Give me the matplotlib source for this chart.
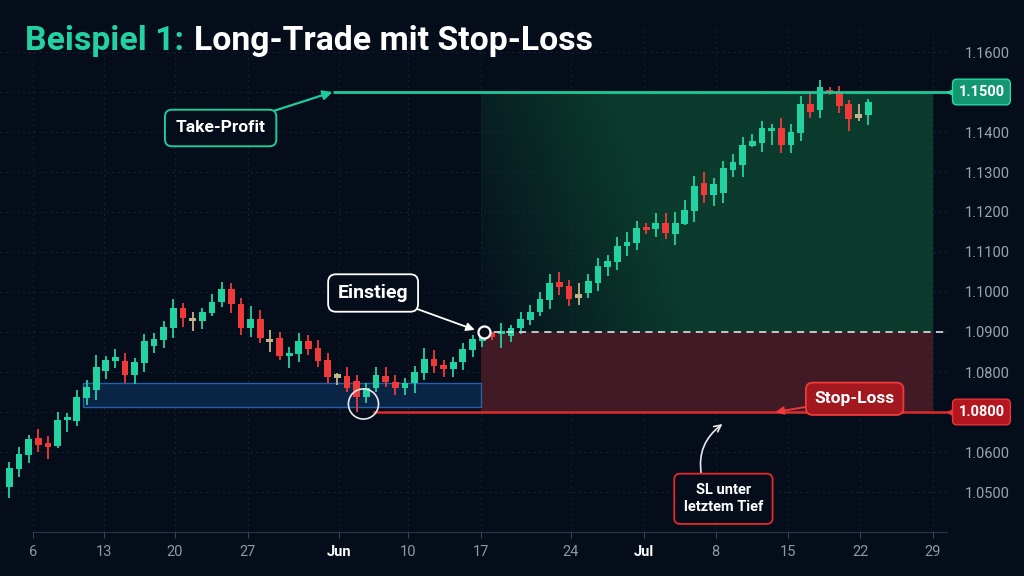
import numpy as np
import matplotlib
matplotlib.use('Agg')
import matplotlib.pyplot as plt
from matplotlib.patches import Rectangle
from matplotlib.transforms import blended_transform_factory

plt.rcParams['font.family'] = ['Roboto', 'DejaVu Sans']

# daily candles (EUR/USD style)
opens = [1.0513, 1.0558, 1.0593, 1.0636, 1.0623, 1.0615, 1.0680, 1.0678, 1.0734, 1.0755,
         1.0803, 1.0827, 1.0828, 1.0792, 1.0822, 1.0866, 1.0880, 1.0911, 1.0959, 1.0932,
         1.0928, 1.0948, 1.0975, 1.1008, 1.0971, 1.0909, 1.0932, 1.0879, 1.0884, 1.0840,
         1.0845, 1.0878, 1.0861, 1.0830, 1.0790, 1.0791, 1.0778, 1.0737, 1.0759, 1.0791,
         1.0775, 1.0759, 1.0772, 1.0798, 1.0833, 1.0817, 1.0807, 1.0826, 1.0855, 1.0878,
         1.0895, 1.0895, 1.0891, 1.0909, 1.0930, 1.0949, 1.0980, 1.1024, 1.1015, 1.0990,
         1.0997, 1.1023, 1.1063, 1.1076, 1.1115, 1.1123, 1.1162, 1.1158, 1.1172, 1.1145,
         1.1170, 1.1203, 1.1273, 1.1243, 1.1247, 1.1305, 1.1318, 1.1365, 1.1373, 1.1403,
         1.1411, 1.1368, 1.1398, 1.1470, 1.1455, 1.1503, 1.1498, 1.1469, 1.1440, 1.1443]
highs = [1.0576, 1.0613, 1.0643, 1.0658, 1.0640, 1.0701, 1.0697, 1.0755, 1.0780, 1.0843,
         1.0840, 1.0858, 1.0847, 1.0836, 1.0895, 1.0897, 1.0928, 1.0983, 1.0972, 1.0951,
         1.0959, 1.0995, 1.1024, 1.1022, 1.0984, 1.0966, 1.0955, 1.0905, 1.0901, 1.0863,
         1.0897, 1.0893, 1.0880, 1.0847, 1.0797, 1.0813, 1.0793, 1.0772, 1.0813, 1.0813,
         1.0793, 1.0784, 1.0815, 1.0859, 1.0855, 1.0830, 1.0837, 1.0872, 1.0893, 1.0897,
         1.0901, 1.0923, 1.0918, 1.0949, 1.0968, 1.1001, 1.1044, 1.1051, 1.1030, 1.1022,
         1.1044, 1.1086, 1.1093, 1.1137, 1.1151, 1.1178, 1.1173, 1.1198, 1.1197, 1.1201,
         1.1230, 1.1290, 1.1301, 1.1286, 1.1328, 1.1344, 1.1388, 1.1395, 1.1428, 1.1420,
         1.1434, 1.1420, 1.1490, 1.1497, 1.1530, 1.1512, 1.1515, 1.1480, 1.1469, 1.1482]
lows = [1.0484, 1.0538, 1.0572, 1.0601, 1.0582, 1.0609, 1.0651, 1.0666, 1.0718, 1.0730,
        1.0782, 1.0809, 1.0772, 1.0769, 1.0801, 1.0847, 1.0861, 1.0886, 1.0913, 1.0903,
        1.0908, 1.0940, 1.0963, 1.0947, 1.0893, 1.0888, 1.0872, 1.0851, 1.0830, 1.0809,
        1.0826, 1.0843, 1.0813, 1.0772, 1.0768, 1.0751, 1.0701, 1.0722, 1.0751, 1.0763,
        1.0743, 1.0743, 1.0747, 1.0780, 1.0797, 1.0787, 1.0787, 1.0805, 1.0838, 1.0862,
        1.0880, 1.0859, 1.0874, 1.0895, 1.0918, 1.0940, 1.0957, 1.0993, 1.0965, 1.0968,
        1.0984, 1.1003, 1.1040, 1.1055, 1.1090, 1.1105, 1.1144, 1.1138, 1.1132, 1.1118,
        1.1168, 1.1176, 1.1222, 1.1215, 1.1222, 1.1288, 1.1288, 1.1362, 1.1351, 1.1368,
        1.1348, 1.1347, 1.1378, 1.1434, 1.1434, 1.1493, 1.1447, 1.1403, 1.1428, 1.1418]
closes = [1.0561, 1.0595, 1.0633, 1.0618, 1.0613, 1.0680, 1.0688, 1.0737, 1.0762, 1.0812,
          1.0830, 1.0837, 1.0792, 1.0824, 1.0878, 1.0883, 1.0913, 1.0959, 1.0936, 1.0932,
          1.0949, 1.0976, 1.1008, 1.0969, 1.0909, 1.0933, 1.0886, 1.0879, 1.0840, 1.0848,
          1.0878, 1.0858, 1.0828, 1.0787, 1.0790, 1.0759, 1.0737, 1.0761, 1.0793, 1.0774,
          1.0759, 1.0773, 1.0801, 1.0833, 1.0815, 1.0807, 1.0826, 1.0857, 1.0882, 1.0890,
          1.0890, 1.0901, 1.0909, 1.0932, 1.0951, 1.0983, 1.1023, 1.1012, 1.0982, 1.0990,
          1.1028, 1.1065, 1.1078, 1.1116, 1.1126, 1.1159, 1.1157, 1.1172, 1.1147, 1.1172,
          1.1205, 1.1265, 1.1243, 1.1269, 1.1309, 1.1326, 1.1368, 1.1378, 1.1409, 1.1411,
          1.1368, 1.1401, 1.1470, 1.1451, 1.1513, 1.1498, 1.1465, 1.1432, 1.1440, 1.1475]

# x axis labels (weekly) and where they sit in candle units
date_labels = ['6', '13', '20', '27', 'Jun', '10', '17', '24', 'Jul', '8', '15', '22', '29']
date_pos = [2.46, 9.81, 17.17, 24.7, 34.2, 41.3, 48.9, 58.2, 65.8, 73.2, 80.7, 88.2, 95.7]

# price labels on the right axis, as printed
price_levels = [1.05, 1.06, 1.07, 1.08, 1.09, 1.10, 1.11, 1.12, 1.13, 1.14, 1.15, 1.16]
price_labels = ['1.0500', '1.0600', '', '1.0800', '1.0900', '1.1000', '1.1100',
                '1.1200', '1.1300', '1.1400', '', '1.1600']

# trade setup
entry = 1.09
take_profit = 1.15
stop_loss = 1.07
tp_text = '1.1500'
sl_text = '1.0800'
entry_x = 48.9
trade_end = 95.7
support_x = 7.6
support_lo, support_hi = 1.0713, 1.0773
low_x, low_y = 36.7, 1.0720

BG = '#050c1a'
GREEN = '#22d3a1'
RED = '#f03a3a'
DOJI = '#c4b48a'

fig = plt.figure(figsize=(10.24, 5.76), dpi=100, facecolor=BG)
ax = fig.add_axes([0, 1 - 532 / 576, 947 / 1024, 502 / 576])
ax.set_facecolor(BG)
ax.set_xlim(-0.964, 97.17)
ax.set_ylim(1.04, 1.1655)

# grid
ax.set_xticks(date_pos)
ax.set_yticks(price_levels)
ax.grid(color='#142033', linestyle=(0, (2, 3)), lw=0.8, zorder=0)
ax.set_axisbelow(True)

# zones
nx, ny = 300, 80
tx = np.linspace(0, 1, nx)[None, :]
vb = 1 - np.linspace(0, 1, ny)[:, None]
alpha = np.clip(0.08 + 2.0 * tx + 0.35 * vb, 0, 1)
grad = np.zeros((ny, nx, 4))
grad[..., :3] = matplotlib.colors.to_rgb('#0b3b2c')
grad[..., 3] = alpha
ax.imshow(grad, extent=[entry_x, trade_end, entry, take_profit], origin='upper',
          aspect='auto', zorder=1, interpolation='bilinear')
ax.add_patch(Rectangle((entry_x, stop_loss), trade_end - entry_x, entry - stop_loss,
                       facecolor='#401a25', edgecolor='none', zorder=1))
ax.add_patch(Rectangle((support_x, support_lo), entry_x - support_x, support_hi - support_lo,
                       facecolor='#0a2445', edgecolor='#2660aa', lw=1, zorder=1))

# candles
o = np.array(opens)
c = np.array(closes)
x = np.arange(len(o))
cols = np.where(c > o, GREEN, np.where(c < o, RED, DOJI))
body_lo = np.minimum(o, c)
body_h = np.maximum(np.abs(c - o), 0.0008)
body_lo = np.where(np.abs(c - o) < 0.0008, (o + c) / 2 - 0.0004, body_lo)
ax.vlines(x, lows, highs, colors=cols, lw=1.3, zorder=3)
ax.bar(x, body_h, bottom=body_lo, width=0.7, color=cols, edgecolor='none', zorder=3)

# levels
ax.hlines(take_profit, 33.5, 97.6, color='#20c99a', lw=2, zorder=4, clip_on=False)
ax.hlines(stop_loss, 37.7, 97.6, color='#e02b2b', lw=1.8, zorder=4, clip_on=False)
ax.hlines(entry, entry_x, 97.1, color='#cfd3d8', lw=1.3, linestyle=(0, (4, 3)), zorder=4)
ax.scatter([entry_x + 0.3], [entry], s=75, facecolor=BG, edgecolor='white', lw=1.6, zorder=5)
ax.scatter([low_x], [low_y], s=470, facecolor='none', edgecolor='#e8e8e8', lw=1.2, zorder=5)

# price tags on the right
tr = blended_transform_factory(ax.transAxes, ax.transData)
for val, txt, fc, ec in [(take_profit, tp_text, '#129770', '#2ad8a8'),
                         (stop_loss, sl_text, '#b3161e', '#ec3535')]:
    ax.plot([1.005], [val], marker='<', ms=7, color=ec, transform=tr, clip_on=False, zorder=6)
    ax.text(1.012, val, txt, transform=tr, ha='left', va='center', color='white',
            fontsize=10.5, fontweight='bold', zorder=7,
            bbox=dict(boxstyle='round,pad=0.4,rounding_size=0.3', fc=fc, ec=ec, lw=1))

# callouts
ax.annotate('Take-Profit', xy=(33.5, take_profit), xytext=(21.9, 1.1410),
            ha='center', va='center', color='white', fontsize=12.5, fontweight='bold', zorder=7,
            bbox=dict(boxstyle='round,pad=0.62,rounding_size=0.4', fc=BG, ec='#20c99a', lw=1.4),
            arrowprops=dict(arrowstyle='-|>', color='#20c99a', lw=1.6, mutation_scale=14,
                            shrinkA=0, shrinkB=0))
ax.annotate('Einstieg', xy=(entry_x - 0.4, entry + 0.0003), xytext=(37.7, 1.09975),
            ha='center', va='center', color='white', fontsize=14, fontweight='bold', zorder=7,
            bbox=dict(boxstyle='round,pad=0.5,rounding_size=0.4', fc=BG, ec='white', lw=1.3),
            arrowprops=dict(arrowstyle='-|>', color='white', lw=1.3, mutation_scale=12,
                            shrinkA=0, shrinkB=2))
ax.annotate('Stop-Loss', xy=(79.4, stop_loss), xytext=(87.6, 1.0733),
            ha='center', va='center', color='white', fontsize=12.5, fontweight='bold', zorder=7,
            bbox=dict(boxstyle='round,pad=0.5,rounding_size=0.4', fc='#a3171f', ec='#f03a3a', lw=1.3),
            arrowprops=dict(arrowstyle='-|>', color='#f03a3a', lw=1.3, mutation_scale=12,
                            shrinkA=0, shrinkB=0))
ax.annotate('SL unter\nletztem Tief', xy=(73.9, 1.0670), xytext=(74.0, 1.0483),
            ha='center', va='center', color='white', fontsize=10.5, fontweight='bold', zorder=7,
            linespacing=1.3,
            bbox=dict(boxstyle='round,pad=0.65,rounding_size=0.4', fc=BG, ec='#e8282c', lw=1.3),
            arrowprops=dict(arrowstyle='->', color='#e8e8e8', lw=1.2, mutation_scale=12,
                            connectionstyle='arc3,rad=-0.35', shrinkA=0, shrinkB=0,
                            relpos=(0.25, 1.0)))

# axes styling
for s in ['top', 'left', 'right']:
    ax.spines[s].set_visible(False)
ax.spines['bottom'].set_color('#2a3444')
ax.spines['bottom'].set_bounds(date_pos[0], 97.17)
ax.yaxis.tick_right()
ax.tick_params(axis='y', length=0, pad=13, labelsize=10.5, labelcolor='#9aa3ae')
ax.tick_params(axis='x', length=4, color='#3a4556', pad=5, labelsize=10.5, labelcolor='#8e98a4')
ax.set_yticklabels(price_labels)
ax.set_xticklabels(date_labels)
for lab in ax.get_xticklabels():
    if lab.get_text() in ('Jun', 'Jul'):
        lab.set_color('white')
        lab.set_fontweight('bold')

# title in two colours, scaled to the width in the picture
t1 = fig.text(25 / 1024, 1 - 50 / 576, 'Beispiel 1:', color=GREEN, fontsize=22,
              fontweight='bold', va='baseline')
t2 = fig.text(0, 1 - 50 / 576, 'Long-Trade mit Stop-Loss', color='white', fontsize=22,
              fontweight='bold', va='baseline')
fig.canvas.draw()
r = fig.canvas.get_renderer()
w1 = t1.get_window_extent(r).width
w2 = t2.get_window_extent(r).width
scale = 568 / (w1 + w2 + 9)
t1.set_fontsize(22 * scale)
t2.set_fontsize(22 * scale)
fig.canvas.draw()
w1 = t1.get_window_extent(r).width
t2.set_x((25 + w1 + 9 * scale) / 1024)

fig.savefig('out.png', dpi=100, facecolor=BG)
